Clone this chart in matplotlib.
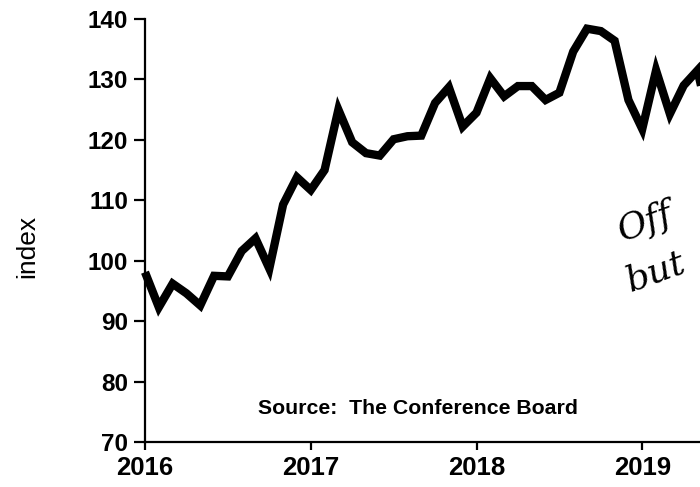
import matplotlib
matplotlib.use("Agg")
import matplotlib.pyplot as plt
import numpy as np

plt.rcParams['font.family'] = ['Liberation Sans', 'DejaVu Sans']

# Monthly index values, Jan 2016 onward
values_2016 = [98.1, 92.3, 96.2, 94.6, 92.6, 97.5, 97.4, 101.6, 103.7, 98.7, 109.3, 113.8]
values_2017 = [111.7, 115.0, 125.0, 119.6, 117.8, 117.4, 120.1, 120.6, 120.7, 126.1, 128.7, 122.2]
values_2018 = [124.5, 130.2, 127.2, 128.9, 128.9, 126.6, 127.8, 134.6, 138.4, 138.0, 136.4, 126.6]
values_2019 = [121.8, 131.5, 124.3, 129.0, 131.5, 121.5]
values = values_2016 + values_2017 + values_2018 + values_2019
start_year = 2016
x = [start_year + i / 12 for i in range(len(values))]

year_ticks = [2016, 2017, 2018, 2019]
y_ticks = [70, 80, 90, 100, 110, 120, 130, 140]

fig = plt.figure(figsize=(7, 4.87), dpi=100)
ax = fig.add_axes([145/700, 45/487, 663/700, 423/487])
ax.plot(x, values, color='black', lw=6, solid_joinstyle='miter', solid_capstyle='butt', clip_on=False)
ax.set_xlim(2016, 2020)
ax.set_ylim(70, 140)
ax.set_xticks(year_ticks)
ax.set_xticklabels([str(y) for y in year_ticks], fontsize=18.5, fontweight='bold')
ax.set_yticks(y_ticks)
ax.set_yticklabels([str(v) for v in y_ticks], fontsize=17.5, fontweight='bold')
for s in ['top', 'right']:
    ax.spines[s].set_visible(False)
for s in ['left', 'bottom']:
    ax.spines[s].set_linewidth(1.6)
ax.tick_params(axis='y', direction='out', length=8, width=1.6, pad=4)
ax.tick_params(axis='x', direction='out', length=6, width=1.6, pad=4)
ax.set_ylabel('index', fontsize=19)
ax.yaxis.set_label_coords((39 - 145) / 663, (487 - 246 - 45) / 423)

fig.text(258/700, 1 - 408/487, 'Source:  The Conference Board', fontsize=15.3, fontweight='bold',
         ha='left', va='center')

fig.text(645/700, 1 - 222/487, 'Off', fontsize=26, fontstyle='italic', fontweight='light',
         family=['DejaVu Serif'], rotation=20, ha='center', va='center')
fig.text(655/700, 1 - 272/487, 'but', fontsize=26, fontstyle='italic', fontweight='light',
         family=['DejaVu Serif'], rotation=20, ha='center', va='center')

fig.savefig('out.png', dpi=100)
